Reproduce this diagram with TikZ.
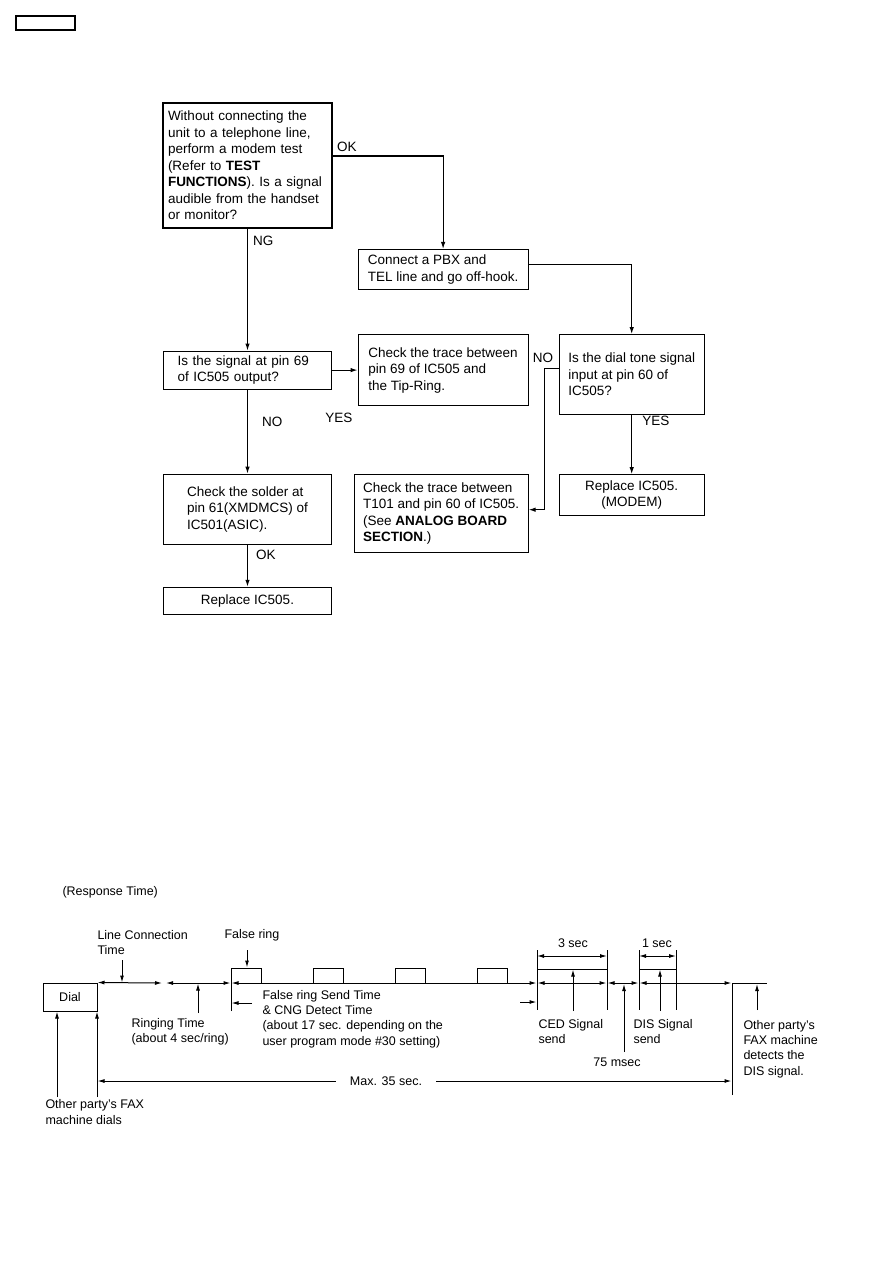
\documentclass[tikz,border=0pt]{standalone}
\usepackage{fontspec}
\setmainfont{Liberation Sans}
\usetikzlibrary{arrows.meta,positioning}

\begin{document}
\begin{tikzpicture}[x=1pt, y=-1pt, line width=1pt, font=\fontsize{13.5}{16.5}\selectfont,
  box/.style={draw, line width=1.1pt, align=left, inner ysep=4pt},
  arr/.style={-{Latex[length=7pt,width=4.5pt]}, line width=1.1pt},
  lbl/.style={inner sep=2pt},
  tm/.style={font=\fontsize{12.5}{15.3}\selectfont, align=left, inner sep=0pt},
  dim/.style={{Latex[length=7pt,width=4pt]}-{Latex[length=7pt,width=4pt]}},
  up/.style={-{Latex[length=7pt,width=4pt]}}]
\useasboundingbox (0,0) rectangle (893,1263);

\node[draw, line width=1.2pt, minimum width=59pt, minimum height=14pt, inner sep=0pt] (tag) at (45.5,23) {};

% flow chart
\node[box, text width=159pt, inner xsep=5pt, minimum height=125pt] (tst) at (247.5,165.5) {Without connecting the\\unit to a telephone line,\\perform a modem test\\(Refer to \textbf{TEST}\\\textbf{FUNCTIONS}). Is a signal\\audible from the handset\\or monitor?};
\node[box, text width=140pt, inner xsep=14pt, minimum height=38pt, below=122pt of tst] (sig) {Is the signal at pin 69\\of IC505 output?};
\node[box, minimum width=170pt, minimum height=71pt, right=25.5pt of sig] (trace) {Check the trace between\\pin 69 of IC505 and\\the Tip-Ring.};
\node[box, minimum width=170pt, minimum height=40pt, above=44pt of trace] (pbx) {Connect a PBX and\\TEL line and go off-hook.};
\node[box, minimum width=145pt, minimum height=80pt, right=30pt of trace.north east, anchor=north west] (dial) {Is the dial tone signal\\input at pin 60 of\\IC505?};
\node[box, align=center, minimum width=145pt, minimum height=41pt, below=59pt of dial] (modem) {Replace IC505.\\(MODEM)};
\node[box, minimum width=174pt, minimum height=78pt, left=30pt of modem.north west, anchor=north east] (t101) {Check the trace between\\T101 and pin 60 of IC505.\\(See \textbf{ANALOG BOARD}\\\textbf{SECTION}.)};
\node[box, minimum width=168pt, minimum height=70pt, below=84pt of sig] (solder) {Check the solder at\\pin 61(XMDMCS) of\\IC501(ASIC).};
\node[box, align=center, minimum width=168pt, minimum height=27pt, below=42pt of solder] (repl) {Replace IC505.};

\draw[arr] ([yshift=9.5pt]tst.east) node[lbl, anchor=south west, xshift=2pt, yshift=2pt] (ok1) {OK} -| (pbx.north);
\draw[arr] (tst) -- node[lbl, pos=0.1, anchor=west, xshift=3pt] (ng) {NG} (sig);
\draw[arr] ([yshift=5pt]pbx.east) -| (dial.north);
\draw[arr] (sig) -- node[lbl, xshift=-6pt, yshift=-48pt] (yes1) {YES} (trace);
\draw[arr] (sig) -- node[lbl, pos=0.38, anchor=west, xshift=12pt] (no1) {NO} (solder);
\draw[arr] ([yshift=6pt]dial.west) node[lbl, anchor=south east, xshift=-3pt, yshift=3pt] (no2) {NO} -- ++(-14pt,0) |- ([yshift=4pt]t101.east);
\draw[arr] (dial) -- node[lbl, pos=0.1, anchor=west, xshift=8pt] (yes2) {YES} (modem);
\draw[arr] (solder) -- node[lbl, pos=0.25, anchor=west, xshift=6pt] (ok2) {OK} (repl);

% response time chart
\node[tm, anchor=west] (resp) at (62,892) {(Response Time)};
\node[draw, tm, minimum width=54pt, minimum height=28pt] (dialbox) at (70,997) {Dial};

\draw[dim] (dialbox.north east) -- (162,983);
\draw[dim] (166,983) -- (230.5,983);
\draw[dim] (231.5,983) -- (536.5,983);
\draw (231,1011) -- (231,968) -| (261,983);
\foreach \x in {313,395,477}
  \draw (\x,983) |- (\x+30,968) -- (\x+30,983);
\foreach \x in {537,607,639,676}
  \draw (\x,950) -- (\x,1010);
\draw[dim] (537,956) -- (607,956);
\draw (537,969) -- (607,969);
\draw[dim] (537.5,983) -- (606.5,983);
\draw[dim] (607.5,983) -- (638.5,983);
\draw[dim] (639,956) -- (676,956);
\draw (639,969) -- (676,969);
\draw[dim] (639.5,983) -- (731.5,983);
\draw (732,1095) -- (732,983) -- (767,983);
\draw[up] (252,1003) -- (231.5,1003);
\draw[up] (520,1002) -- (536.5,1002);
\draw[up] (122,960) -- (122,982.5);
\draw[up] (247,950) -- (247,967.5);
\draw[up] (198,1013) -- (198,983.5);
\draw[up] (573,1011) -- (573,969.5);
\draw[up] (660,1011) -- (660,969.5);
\draw[up] (624,1052) -- (624,984);
\draw[up] (757,1010) -- (757,984);
\draw[up] (57,1097) -- (57,1011.5);
\draw[up] (97,1097) -- (97,1011.5);
\draw[dim] (97.5,1081) -- node[tm, pos=0.455, fill=white, inner xsep=14pt, inner ysep=2pt] (max) {Max. 35 sec.} (731.5,1081);

\node[tm, anchor=west] (lct) at (97,942.5) {Line Connection\\Time};
\node[tm, anchor=west] (fr) at (224,935) {False ring};
\node[tm, anchor=west] (rt) at (131,1032) {Ringing Time\\(about 4 sec/ring)};
\node[tm, anchor=west] (frs) at (262,1019) {False ring Send Time\\\& CNG Detect Time\\(about 17 sec. depending on the\\user program mode \#30 setting)};
\node[tm] (s3) at (573,943) {3 sec};
\node[tm] (s1) at (657,943) {1 sec};
\node[tm, anchor=west] (ced) at (538,1031.5) {CED Signal\\send};
\node[tm, anchor=west] (dis) at (633,1031.5) {DIS Signal\\send};
\node[tm] (ms) at (617,1062) {75 msec};
\node[tm, anchor=west] (det) at (743,1049) {Other party's\\FAX machine\\detects the\\DIS signal.};
\node[tm, anchor=west] (dials) at (45,1112) {Other party's FAX\\machine dials};
\end{tikzpicture}
\end{document}
